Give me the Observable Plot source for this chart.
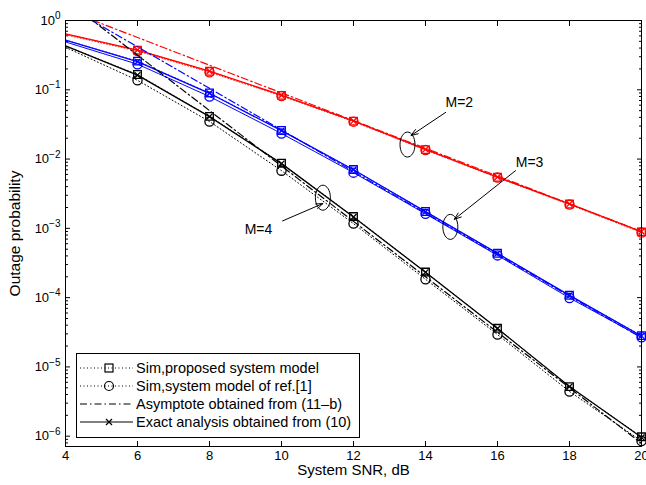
<!DOCTYPE html>
<html><head><meta charset="utf-8">
<script src="https://cdn.jsdelivr.net/npm/d3@7"></script>
<script src="https://cdn.jsdelivr.net/npm/@observablehq/plot@0.6"></script>
<style>
body{margin:0;background:#fff;font-family:"Liberation Sans",Arial,Helvetica,sans-serif;}
#wrap{position:relative;width:646px;height:485px;overflow:hidden;}
#legend{position:absolute;left:76px;top:353px;width:284px;height:85px;border:1px solid #000;background:#fff;box-sizing:border-box;font-size:14.5px;}
.row{position:absolute;left:0;height:18px;display:flex;align-items:center;white-space:nowrap;}
.row svg{flex:none;}
.row span{margin-left:1px;}
</style></head><body><div id="wrap"></div>
<script>
// ---- data ----
const snr = [4, 6, 8, 10, 12, 14, 16, 18, 20];           // System SNR, dB
const xTicks = [4, 6, 8, 10, 12, 14, 16, 18, 20];
const decades = [1, 1e-1, 1e-2, 1e-3, 1e-4, 1e-5, 1e-6];
const minorMult = [2, 3, 4, 5, 6, 7, 8, 9];
const yMin = 7.1e-7;

// M = 2 (red)
const exactM2   = [0.64, 0.375, 0.186, 0.0835, 0.0355, 0.0138, 0.0055, 0.00225, 0.0009];
const simPropM2 = [0.64, 0.373, 0.185, 0.083, 0.0353, 0.0137, 0.00545, 0.00224, 0.00089];
const simRefM2  = [0.62, 0.362, 0.179, 0.0815, 0.0347, 0.0135, 0.0054, 0.0022, 0.00087];
const asymM2    = [1.43, 0.569, 0.226, 0.0902, 0.0359, 0.0143, 0.00569, 0.00226, 0.0009];
// M = 3 (blue)
const exactM3   = [0.52, 0.255, 0.089, 0.0257, 0.0070, 0.00174, 0.000435, 0.000108, 0.000028];
const simPropM3 = [0.52, 0.259, 0.090, 0.0259, 0.00705, 0.00175, 0.000437, 0.000108, 0.0000283];
const simRefM3  = [0.49, 0.234, 0.080, 0.0234, 0.00637, 0.00162, 0.000407, 0.000099, 0.0000268];
const asymM3    = [1.66, 0.417, 0.105, 0.0263, 0.0066, 0.00166, 0.000417, 0.000105, 0.0000263];
// M = 4 (black)
const exactM4   = [0.43, 0.163, 0.041, 0.0086, 0.00146, 0.000232, 0.0000358, 0.0000052, 0.00000096];
const simPropM4 = [0.43, 0.166, 0.0413, 0.0087, 0.00148, 0.000234, 0.0000361, 0.0000052, 0.00000098];
const simRefM4  = [0.41, 0.137, 0.0349, 0.0068, 0.00117, 0.000184, 0.0000293, 0.00000442, 0.00000085];
const asymM4    = [2.0, 0.316, 0.0501, 0.00794, 0.00126, 0.0002, 0.0000316, 0.000005, 0.00000079];

// annotations: ellipse centre, arrow tail/head, label position (dB, probability)
const annLabels = ["M=2", "M=3", "M=4"];
const annEllX = [13.5, 14.69, 11.15];
const annEllY = [0.0162, 0.00105, 0.00277];
const annTailX = [14.56, 16.5, 10.03];
const annTailY = [0.0472, 0.0068, 0.00128];
const annHeadX = [13.6, 14.8, 11.15];
const annHeadY = [0.0219, 0.00135, 0.00228];
const annTextX = [14.94, 16.89, 9.36];
const annTextY = [0.0659, 0.0089, 0.00095];

const legendLabels = ["Sim,proposed system model", "Sim,system model of ref.[1]",
  "Asymptote obtained from (11\u2013b)", "Exact analysis obtained from (10)"];

// ---- build ----
const series = [
  {color: "#ff0000", exact: exactM2, prop: simPropM2, ref: simRefM2, asym: asymM2, refDash: "1,2", refW: 0.8},
  {color: "#0000ff", exact: exactM3, prop: simPropM3, ref: simRefM3, asym: asymM3, refDash: "2,0.6", refW: 1},
  {color: "#000000", exact: exactM4, prop: simPropM4, ref: simRefM4, asym: asymM4, refDash: "1,2.5", refW: 1}
];
const minorTicks = [];
for (const d of decades.concat([1e-7])) for (const m of minorMult) {
  const v = d * m; if (v < 1 && v > yMin) minorTicks.push(v);
}
const idx = snr.map((_, i) => i);
const mIdx = idx.filter(i => snr[i] >= 6);
const ann = annLabels.map((label, i) => ({label, ex: annEllX[i], ey: annEllY[i], x1: annTailX[i], y1: annTailY[i], x2: annHeadX[i], y2: annHeadY[i], tx: annTextX[i], ty: annTextY[i]}));

const ellipse = {draw(ctx) {
  const rx = 7.5, ry = 12.5, k = 0.5523;
  ctx.moveTo(rx, 0);
  ctx.bezierCurveTo(rx, ry * k, rx * k, ry, 0, ry);
  ctx.bezierCurveTo(-rx * k, ry, -rx, ry * k, -rx, 0);
  ctx.bezierCurveTo(-rx, -ry * k, -rx * k, -ry, 0, -ry);
  ctx.bezierCurveTo(rx * k, -ry, rx, -ry * k, rx, 0);
  ctx.closePath();
}};

const lineMarks = [];
for (const s of series) {
  lineMarks.push(Plot.line(idx, {x: i => snr[i], y: i => s.asym[i], stroke: s.color, strokeWidth: 1.2, strokeDasharray: "7,3,1.5,3", clip: true}));
  lineMarks.push(Plot.line(idx, {x: i => snr[i], y: i => s.ref[i], stroke: s.color, strokeWidth: s.refW, strokeDasharray: s.refDash, clip: true}));
  lineMarks.push(Plot.line(idx, {x: i => snr[i], y: i => s.prop[i], stroke: s.color, strokeWidth: 0.8, strokeDasharray: "1,2.5", clip: true}));
  lineMarks.push(Plot.line(idx, {x: i => snr[i], y: i => s.exact[i], stroke: s.color, strokeWidth: 1.3, clip: true}));
  lineMarks.push(Plot.dot(mIdx, {x: i => snr[i], y: i => s.prop[i], symbol: "square", r: 4.3, stroke: s.color, strokeWidth: 1.3, fill: "none"}));
  lineMarks.push(Plot.dot(mIdx, {x: i => snr[i], y: i => s.ref[i], symbol: "circle", r: 4.6, stroke: s.color, strokeWidth: 1.3, fill: "none"}));
  lineMarks.push(Plot.dot(mIdx, {x: i => snr[i], y: i => s.exact[i], symbol: "times", r: 2.8, stroke: s.color, strokeWidth: 1.3}));
}

const fontFamily = "'Liberation Sans', Arial, Helvetica, sans-serif";
const yMajor = decades.filter(d => d >= yMin);
const plot = Plot.plot({
  width: 646, height: 485,
  marginLeft: 65, marginRight: 5, marginTop: 20, marginBottom: 39,
  style: {fontFamily, fontSize: "13px", background: "white", color: "black", overflow: "visible"},
  x: {domain: [4, 20]},
  y: {type: "log", domain: [yMin, 1]},
  marks: [
    Plot.axisX(xTicks, {anchor: "bottom", tickSize: 0, tickPadding: 4, fontSize: 13, label: null}),
    Plot.axisX(xTicks, {anchor: "bottom", tickSize: -5, tickFormat: () => "", label: null}),
    Plot.axisX(xTicks, {anchor: "top", tickSize: -5, tickFormat: () => "", label: null}),
    Plot.axisY(yMajor, {anchor: "left", tickSize: 0, tickPadding: 5, fontSize: 13, tickFormat: d => "10^" + Math.round(Math.log10(d)), label: null}),
    Plot.axisY(yMajor, {anchor: "left", tickSize: -5, tickFormat: () => "", label: null}),
    Plot.axisY(minorTicks, {anchor: "left", tickSize: -3, tickFormat: () => "", label: null}),
    Plot.axisY(yMajor, {anchor: "right", tickSize: -5, tickFormat: () => "", label: null}),
    Plot.axisY(minorTicks, {anchor: "right", tickSize: -3, tickFormat: () => "", label: null}),
    ...lineMarks,
    Plot.frame({stroke: "black", strokeWidth: 1}),
    Plot.dot(ann, {x: "ex", y: "ey", symbol: ellipse, r: 5, stroke: "black", strokeWidth: 1, fill: "none"}),
    Plot.arrow(ann, {x1: "x1", y1: "y1", x2: "x2", y2: "y2", stroke: "black", strokeWidth: 1, headLength: 11, headAngle: 40}),
    Plot.text(ann, {x: "tx", y: "ty", text: "label", fontSize: 14}),
    Plot.text(["System SNR, dB"], {frameAnchor: "bottom", dy: 24, lineAnchor: "middle", textAnchor: "middle", fontSize: 15}),
    Plot.text(["Outage probability"], {frameAnchor: "left", dx: -50, rotate: -90, textAnchor: "middle", lineAnchor: "middle", fontSize: 15.5})
  ]
});

// superscript exponents on the y tick labels
plot.querySelectorAll('[aria-label="y-axis tick label"] text').forEach(t => {
  const s = t.textContent;
  if (s.includes("^")) {
    const [b, e] = s.split("^");
    t.textContent = b;
    const ts = document.createElementNS("http://www.w3.org/2000/svg", "tspan");
    ts.setAttribute("dy", "-0.55em");
    ts.setAttribute("font-size", "10px");
    ts.textContent = e.replace("-", "\u2212");
    t.appendChild(ts);
  }
});

const wrap = document.getElementById("wrap");
wrap.appendChild(plot);

// legend (HTML overlay inside the axes, bottom-left)
const legend = document.createElement("div");
legend.id = "legend";
const rowTops = [5, 23, 41, 59];
const samples = [
  '<line x1="3" y1="9" x2="56" y2="9" stroke="#000" stroke-dasharray="1,2.5"/><rect x="28" y="5" width="8" height="8" fill="none" stroke="#000" stroke-width="1.2"/>',
  '<line x1="3" y1="9" x2="56" y2="9" stroke="#000" stroke-dasharray="1,2.5"/><circle cx="32" cy="9" r="4.5" fill="none" stroke="#000" stroke-width="1.2"/>',
  '<line x1="3" y1="9" x2="56" y2="9" stroke="#000" stroke-width="1.2" stroke-dasharray="7,3,1.5,3"/>',
  '<line x1="3" y1="9" x2="56" y2="9" stroke="#000" stroke-width="1.2"/><path d="M29,6L35,12M35,6L29,12" stroke="#000" stroke-width="1.3"/>'
];
legendLabels.forEach((lab, i) => {
  const row = document.createElement("div");
  row.className = "row";
  row.style.top = rowTops[i] + "px";
  row.innerHTML = '<svg width="58" height="18">' + samples[i] + '</svg><span>' + lab + '</span>';
  legend.appendChild(row);
});
wrap.appendChild(legend);
</script>
</body></html>
